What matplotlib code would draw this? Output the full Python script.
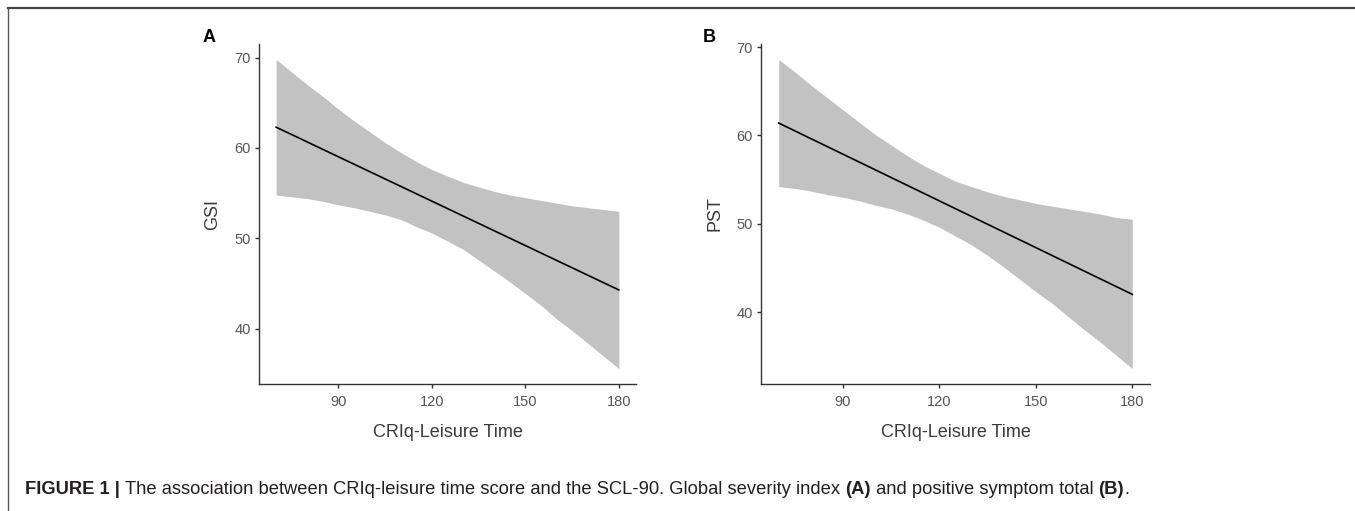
import numpy as np
import matplotlib.pyplot as plt
from matplotlib.lines import Line2D

# Values
x_band = [70, 75, 80, 85, 90, 95, 100, 105, 110, 115, 120, 125,
          130, 135, 140, 145, 150, 155, 160, 165, 170, 175, 180]
x_fit = [70, 180]

# Panel A: GSI
gsi_fit = [62.3, 44.3]
gsi_upper = [69.8, 68.4, 67.0, 65.7, 64.3, 63.0, 61.8, 60.6, 59.5, 58.5, 57.6, 56.9,
             56.2, 55.7, 55.2, 54.8, 54.5, 54.2, 53.9, 53.6, 53.4, 53.2, 53.0]
gsi_lower = [54.8, 54.6, 54.4, 54.1, 53.7, 53.4, 53.0, 52.6, 52.1, 51.3, 50.6, 49.7,
             48.8, 47.6, 46.4, 45.2, 43.9, 42.6, 41.1, 39.8, 38.4, 37.0, 35.6]

# Panel B: PST
pst_fit = [61.4, 42.0]
pst_upper = [68.6, 67.2, 65.7, 64.3, 62.9, 61.5, 60.1, 58.9, 57.7, 56.6, 55.7, 54.8,
             54.2, 53.6, 53.1, 52.7, 52.3, 52.0, 51.7, 51.4, 51.1, 50.7, 50.5]
pst_lower = [54.2, 54.0, 53.7, 53.3, 53.0, 52.6, 52.1, 51.7, 51.1, 50.4, 49.6, 48.6,
             47.6, 46.4, 45.1, 43.7, 42.3, 41.0, 39.5, 38.0, 36.6, 35.1, 33.6]

x_ticks = [90, 120, 150, 180]
y_ticks = [40, 50, 60, 70]
x_label = 'CRIq-Leisure Time'

plt.rcParams['font.family'] = ['Liberation Sans', 'DejaVu Sans']

W, H = 1355, 511
fig = plt.figure(figsize=(W / 100, H / 100), dpi=100)


def px_axes(left, right, top, bottom):
    return fig.add_axes([left / W, 1 - bottom / H, (right - left) / W, (bottom - top) / H])


def draw_panel(ax, upper, lower, fit, ylabel, ylim, ylab_x):
    ax.fill_between(x_band, lower, upper, color='#c2c2c2', linewidth=0)
    ax.plot(x_fit, fit, color='black', linewidth=1.2)
    ax.set_xlim(64.5, 185.5)
    ax.set_ylim(*ylim)
    ax.set_xticks(x_ticks)
    ax.set_yticks(y_ticks)
    for s in ['top', 'right']:
        ax.spines[s].set_visible(False)
    for s in ['left', 'bottom']:
        ax.spines[s].set_color('#333333')
        ax.spines[s].set_linewidth(1.0)
    ax.tick_params(length=3, width=1.0, color='#333333', labelcolor='#555555', labelsize=10.5)
    ax.tick_params(axis='x', pad=5)
    ax.tick_params(axis='y', pad=3)
    ax.set_xlabel(x_label, fontsize=13, color='#3a3a3a')
    ax.set_ylabel(ylabel, fontsize=13, color='#3a3a3a')
    ax.xaxis.label.set_va('center')
    ax.yaxis.label.set_va('center')
    ax.xaxis.set_label_coords(0.5, -0.144)
    ax.yaxis.set_label_coords(ylab_x, 0.5)


ax_a = px_axes(259, 636, 44, 384)
draw_panel(ax_a, gsi_upper, gsi_lower, gsi_fit, 'GSI', (33.9, 71.5), -0.122)

ax_b = px_axes(761, 1150, 44, 384)
draw_panel(ax_b, pst_upper, pst_lower, pst_fit, 'PST', (31.85, 70.35), -0.118)

fig.text(209 / W, 1 - 38 / H, 'A', fontsize=13, fontweight='bold', ha='center', va='center')
fig.text(709 / W, 1 - 38 / H, 'B', fontsize=13, fontweight='bold', ha='center', va='center')

# frame lines (top and left)
fig.add_artist(Line2D([8 / W, 1], [1 - 8 / H, 1 - 8 / H], transform=fig.transFigure,
                      color='#444444', linewidth=1.6))
fig.add_artist(Line2D([8 / W, 8 / W], [0, 1 - 8 / H], transform=fig.transFigure,
                      color='#555555', linewidth=1.0))

# caption with bold parts
pieces = [('FIGURE 1 | ', 'bold'),
          ('The association between CRIq-leisure time score and the SCL-90. Global severity index ', 'normal'),
          ('(A)', 'bold'),
          (' and positive symptom total ', 'normal'),
          ('(B)', 'bold'),
          ('.', 'normal')]
renderer = fig.canvas.get_renderer()
x = 25
for txt, wt in pieces:
    t = fig.text(x / W, 1 - 490 / H, txt, fontsize=13.2, fontweight=wt, color='#231f20',
                 ha='left', va='center')
    bb = t.get_window_extent(renderer)
    x += bb.width

fig.savefig('out.png', dpi=100)
